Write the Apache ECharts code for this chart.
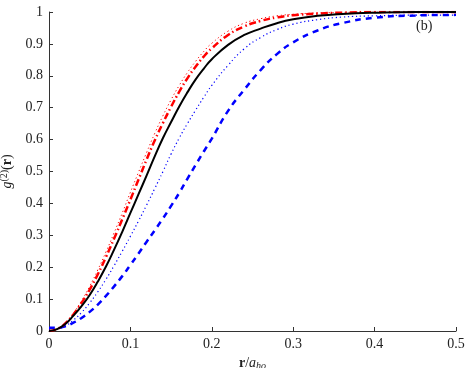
<!DOCTYPE html>
<html>
<head>
<meta charset="utf-8">
<script src="https://cdn.jsdelivr.net/npm/echarts@6/dist/echarts.min.js"></script>
<style>
  html, body { margin: 0; padding: 0; background: #fff; }
</style>
</head>
<body>
<div id="main" style="width: 471px;height:368px;"></div>
<script>
    // r / a_ho sample points
    var rValues = [0, 0.01, 0.02, 0.03, 0.04, 0.05, 0.06, 0.07, 0.08, 0.09,
        0.10, 0.11, 0.12, 0.13, 0.14, 0.15, 0.16, 0.17, 0.18, 0.19,
        0.20, 0.22, 0.24, 0.26, 0.28, 0.30, 0.33, 0.36, 0.40, 0.45, 0.50];

    // g2(r)
    var blackSolid = [0, 0.006, 0.022, 0.048, 0.078, 0.113, 0.155, 0.202, 0.255, 0.311,
        0.370, 0.429, 0.488, 0.548, 0.605, 0.655, 0.704, 0.748, 0.788, 0.822,
        0.852, 0.897, 0.928, 0.948, 0.965, 0.977, 0.988, 0.994, 0.998, 1.0, 1.0];
    var redDashDot = [0, 0.006, 0.024, 0.052, 0.088, 0.130, 0.178, 0.232, 0.290, 0.350,
        0.412, 0.475, 0.538, 0.598, 0.652, 0.703, 0.750, 0.792, 0.828, 0.860,
        0.886, 0.928, 0.955, 0.972, 0.983, 0.990, 0.995, 0.998, 1.0, 1.0, 1.0];
    var redDotted = [0, 0.007, 0.026, 0.056, 0.095, 0.140, 0.192, 0.248, 0.308, 0.370,
        0.435, 0.498, 0.560, 0.620, 0.675, 0.725, 0.770, 0.810, 0.845, 0.876,
        0.902, 0.940, 0.965, 0.979, 0.988, 0.993, 0.997, 0.999, 1.0, 1.0, 1.0];
    var blueDotted = [0.005, 0.007, 0.016, 0.034, 0.058, 0.088, 0.123, 0.162, 0.205, 0.250,
        0.297, 0.345, 0.395, 0.447, 0.500, 0.555, 0.605, 0.650, 0.692, 0.732,
        0.770, 0.833, 0.885, 0.920, 0.945, 0.962, 0.976, 0.984, 0.988, 0.990, 0.990];
    var blueDashed = [0.010, 0.010, 0.015, 0.026, 0.041, 0.060, 0.083, 0.110, 0.140, 0.172,
        0.207, 0.243, 0.280, 0.316, 0.353, 0.392, 0.433, 0.477, 0.520, 0.562,
        0.603, 0.690, 0.757, 0.818, 0.868, 0.905, 0.942, 0.965, 0.982, 0.989, 0.991];

    function pairs(ys) {
        return rValues.map(function (r, i) { return [r, ys[i]]; });
    }

    var serif = 'Liberation Serif';
    var myChart = echarts.init(document.getElementById('main'));

    option = {
        backgroundColor: '#fff',
        animation: false,
        grid: {
            left: 49,
            right: 15,
            top: 12,
            bottom: 37,
            containLabel: false,
            outerBoundsMode: 'none'
        },
        xAxis: {
            type: 'value',
            min: 0,
            max: 0.5,
            interval: 0.1,
            name: '{b|r}{n|/}{i|a}{s|ho}',
            nameLocation: 'middle',
            nameGap: 23,
            nameTextStyle: {
                rich: {
                    b: { fontFamily: serif, fontWeight: 'bold', fontSize: 14, color: '#222' },
                    n: { fontFamily: serif, fontSize: 14, color: '#222' },
                    i: { fontFamily: serif, fontStyle: 'italic', fontSize: 14, color: '#222' },
                    s: { fontFamily: serif, fontStyle: 'italic', fontSize: 10, color: '#222', padding: [6, 0, 0, 0] }
                }
            },
            axisLine: { lineStyle: { color: '#333', width: 1 } },
            axisTick: { inside: true, length: 4, lineStyle: { color: '#333' } },
            axisLabel: { fontFamily: serif, fontSize: 14, color: '#222', margin: 6 },
            splitLine: { show: false }
        },
        yAxis: {
            type: 'value',
            min: 0,
            max: 1,
            interval: 0.1,
            name: '{i|g}{s|(2)}{n|(}{b|r}{n|)}',
            nameLocation: 'middle',
            nameRotate: 90,
            nameGap: 33,
            nameTextStyle: {
                rich: {
                    b: { fontFamily: serif, fontWeight: 'bold', fontSize: 14, color: '#222' },
                    n: { fontFamily: serif, fontSize: 14, color: '#222' },
                    i: { fontFamily: serif, fontStyle: 'italic', fontSize: 14, color: '#222' },
                    s: { fontFamily: serif, fontSize: 10, color: '#222', padding: [0, 0, 6, 0] }
                }
            },
            axisLine: { show: true, lineStyle: { color: '#333', width: 1 } },
            axisTick: { show: true, inside: true, length: 4, lineStyle: { color: '#333' } },
            axisLabel: { fontFamily: serif, fontSize: 14, color: '#222', margin: 6 },
            splitLine: { show: false }
        },
        graphic: [
            {
                type: 'text',
                left: 416,
                top: 19,
                style: { text: '(b)', font: '14px "Liberation Serif"', fill: '#222' }
            }
        ],
        series: [
            {
                name: 'blue dashed',
                type: 'line',
                smooth: true,
                showSymbol: false,
                data: pairs(blueDashed),
                lineStyle: { color: '#0000ff', width: 2.5, type: [6, 5] }
            },
            {
                name: 'blue dotted',
                type: 'line',
                smooth: true,
                showSymbol: false,
                data: pairs(blueDotted),
                lineStyle: { color: '#0000ff', width: 1.2, type: [1.2, 2.8] }
            },
            {
                name: 'red dotted',
                type: 'line',
                smooth: true,
                showSymbol: false,
                data: pairs(redDotted),
                lineStyle: { color: '#ff0000', width: 1, type: [1.2, 2.8] }
            },
            {
                name: 'red dash-dot',
                type: 'line',
                smooth: true,
                showSymbol: false,
                data: pairs(redDashDot),
                lineStyle: { color: '#ff0000', width: 2.5, type: [7, 3, 1.5, 3] }
            },
            {
                name: 'black solid',
                type: 'line',
                smooth: true,
                showSymbol: false,
                data: pairs(blackSolid),
                lineStyle: { color: '#000', width: 2 }
            }
        ]
    };

    myChart.setOption(option);
</script>
</body>
</html>
